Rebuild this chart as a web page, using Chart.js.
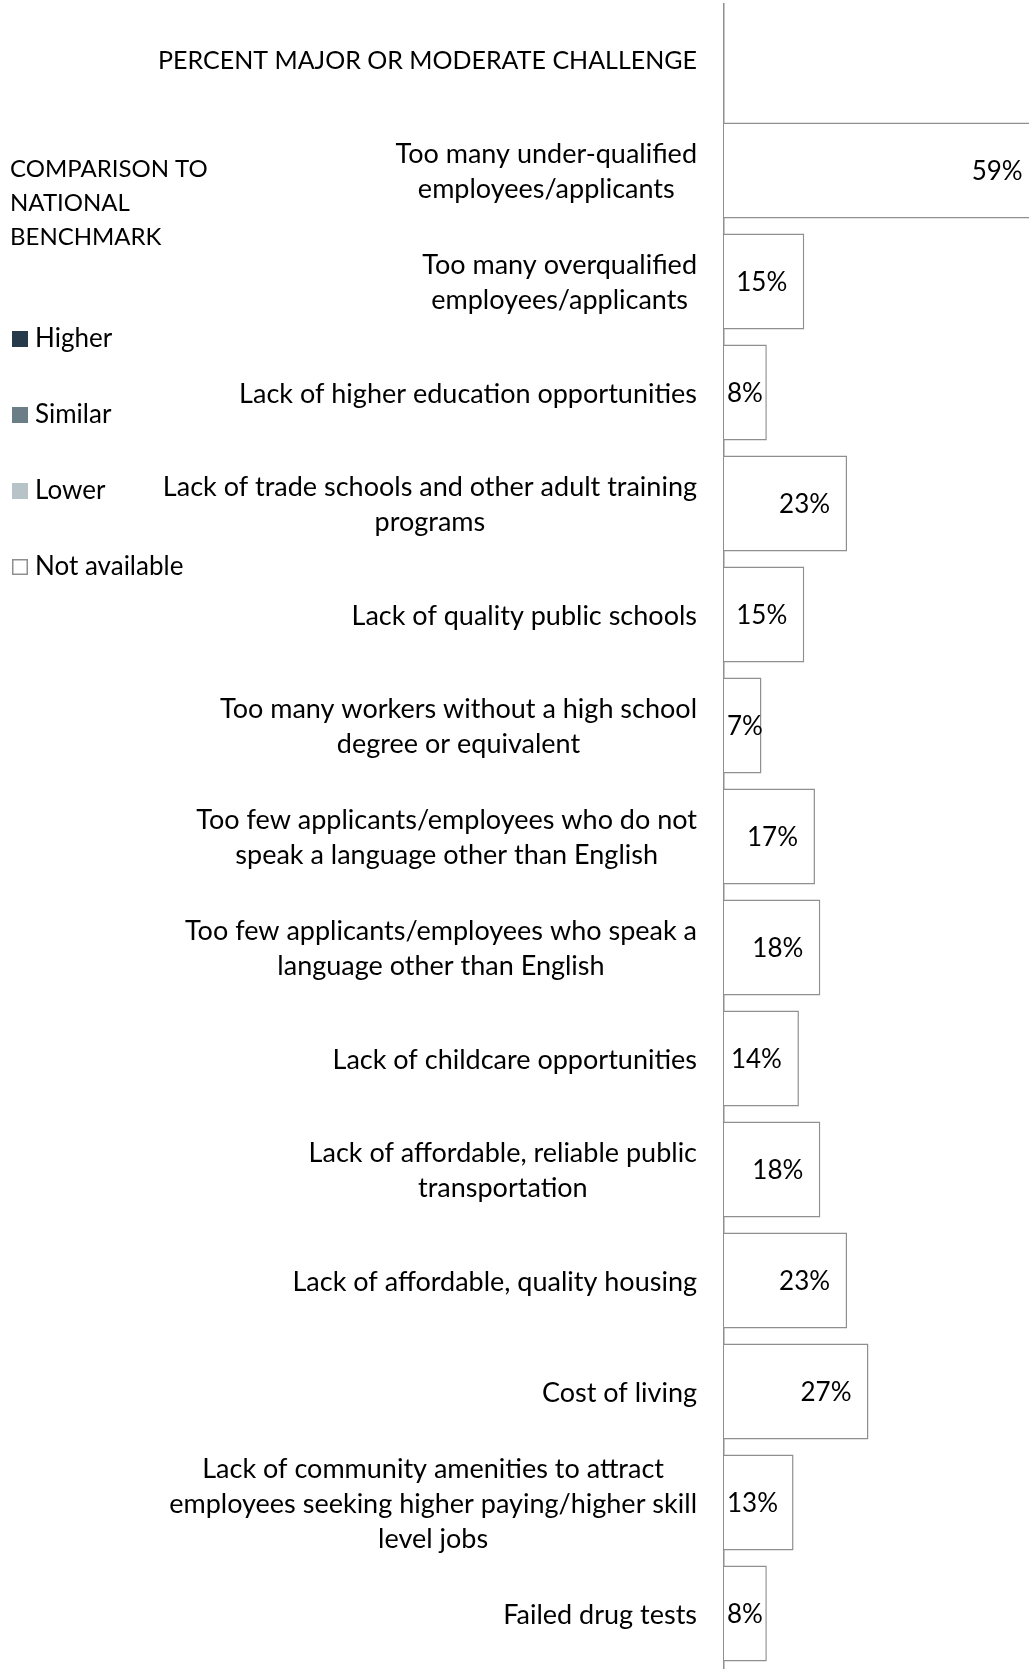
<!DOCTYPE html>
<html>
<head>
<meta charset="utf-8">
<title>Workforce challenges</title>
<script src="https://cdn.jsdelivr.net/npm/chart.js@4.4.1/dist/chart.umd.min.js"></script>
<style>
  html, body { margin: 0; padding: 0; background: #fff; }
  #challengeChart { display: block; }
</style>
</head>
<body>
<canvas id="challengeChart" width="1029" height="1669"></canvas>
<script>
const headerLabel = 'PERCENT MAJOR OR MODERATE CHALLENGE'
const challengeLabels = [
    ['Too many under-qualified', 'employees/applicants'],
    ['Too many overqualified', 'employees/applicants'],
    ['Lack of higher education opportunities'],
    ['Lack of trade schools and other adult training', 'programs'],
    ['Lack of quality public schools'],
    ['Too many workers without a high school', 'degree or equivalent'],
    ['Too few applicants/employees who do not', 'speak a language other than English'],
    ['Too few applicants/employees who speak a', 'language other than English'],
    ['Lack of childcare opportunities'],
    ['Lack of affordable, reliable public', 'transportation'],
    ['Lack of affordable, quality housing'],
    ['Cost of living'],
    ['Lack of community amenities to attract', 'employees seeking higher paying/higher skill', 'level jobs'],
    ['Failed drug tests']
]
const challengeValues = [59, 15, 8, 23, 15, 7, 17, 18, 14, 18, 23, 27, 13, 8]
const benchmarkResults = Array(challengeValues.length).fill('Not available')

const legendTitle = ['COMPARISON TO', 'NATIONAL', 'BENCHMARK']
const benchmarkNames = ['Higher', 'Similar', 'Lower', 'Not available']
const benchmarkColors = ['#253a4a', '#6b7d86', '#b8c3c7', '#ffffff']

const lineGray = '#8f8f8f'
const labelFont = '27px Lato'
const capsFont = '25px Lato'
const titleFont = '24px Lato'
const valueFont = '26px Lato'
const lineHeight = 35

const colorFor = name => benchmarkColors[benchmarkNames.indexOf(name)]

// first row holds the column heading, so it gets no bar
const rowLabels = [[headerLabel], ...challengeLabels]
const rowValues = [null, ...challengeValues]
const rowColors = ['#ffffff', ...benchmarkResults.map(colorFor)]

const sideText = {
    id: 'sideText',
    afterDraw(chart) {
        const ctx = chart.ctx
        const yAxis = chart.scales.y
        const area = chart.chartArea
        ctx.save()
        ctx.fillStyle = '#000'
        ctx.textBaseline = 'middle'
        ctx.textAlign = 'center'

        // row labels: block is right aligned against the axis, lines centred inside it
        rowLabels.forEach((lines, i) => {
            ctx.font = i === 0 ? capsFont : labelFont
            const y = yAxis.getPixelForValue(i) + 1.5
            const blockWidth = Math.max(...lines.map(l => ctx.measureText(l).width))
            const cx = area.left - 27 - blockWidth / 2
            const top = y - (lines.length - 1) * lineHeight / 2
            lines.forEach((l, k) => ctx.fillText(l, cx, top + k * lineHeight))
        })

        // value labels sit inside the end of the bar, but never left of the axis
        ctx.font = valueFont
        ctx.textAlign = 'left'
        const meta = chart.getDatasetMeta(0)
        meta.data.forEach((bar, i) => {
            const v = rowValues[i]
            if (v === null) return
            const txt = v + '%'
            const w = ctx.measureText(txt).width
            const x = Math.max(area.left + 3, bar.x - 17 - w)
            ctx.fillText(txt, x, bar.y + 1)
        })

        // benchmark legend
        ctx.font = titleFont
        legendTitle.forEach((l, k) => ctx.fillText(l, 10, 169 + k * 34))
        ctx.font = valueFont
        benchmarkNames.forEach((name, k) => {
            const cy = 339 + k * 76
            ctx.fillStyle = colorFor(name)
            ctx.fillRect(12, cy - 8, 16, 16)
            if (name === 'Not available') {
                ctx.strokeStyle = lineGray
                ctx.lineWidth = 1.5
                ctx.strokeRect(12.75, cy - 7.25, 14.5, 14.5)
            }
            ctx.fillStyle = '#000'
            ctx.fillText(name, 35, cy)
        })
        ctx.restore()
    }
}

const challengeChart = new Chart(document.getElementById('challengeChart'), {
    type: 'bar',
    data: {
        labels: rowLabels,
        datasets: [{
            data: rowValues,
            backgroundColor: rowColors,
            borderColor: lineGray,
            borderWidth: 1.5,
            categoryPercentage: 1,
            barPercentage: 0.865
        }]
    },
    options: {
        indexAxis: 'y',
        responsive: false,
        devicePixelRatio: 1,
        animation: false,
        layout: { padding: { top: 4 } },
        scales: {
            x: { display: false, min: 0, max: 57 },
            y: {
                grid: { display: false },
                ticks: { display: false },
                border: { color: lineGray, width: 1.5 },
                afterFit(scale) { scale.width = 724 }
            }
        },
        plugins: {
            legend: { display: false },
            tooltip: { enabled: false }
        }
    },
    plugins: [sideText]
})
</script>
</body>
</html>
